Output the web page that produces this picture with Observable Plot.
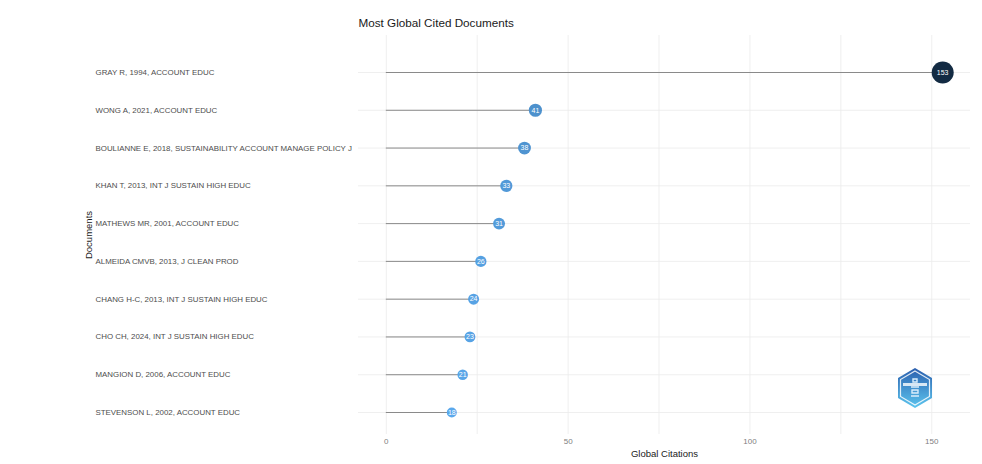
<!DOCTYPE html>
<html><head><meta charset="utf-8">
<script src="https://cdn.jsdelivr.net/npm/d3@7"></script>
<script src="https://cdn.jsdelivr.net/npm/@observablehq/plot@0.6"></script>
<style>
body{margin:0;background:#fff;}
#c{position:relative;width:982px;height:464px;}
#logo{position:absolute;left:896px;top:367px;}
</style>
</head><body><div id="c"></div>
<script>
const documents = [
  "GRAY R, 1994, ACCOUNT EDUC",
  "WONG A, 2021, ACCOUNT EDUC",
  "BOULIANNE E, 2018, SUSTAINABILITY ACCOUNT MANAGE POLICY J",
  "KHAN T, 2013, INT J SUSTAIN HIGH EDUC",
  "MATHEWS MR, 2001, ACCOUNT EDUC",
  "ALMEIDA CMVB, 2013, J CLEAN PROD",
  "CHANG H-C, 2013, INT J SUSTAIN HIGH EDUC",
  "CHO CH, 2024, INT J SUSTAIN HIGH EDUC",
  "MANGION D, 2006, ACCOUNT EDUC",
  "STEVENSON L, 2002, ACCOUNT EDUC"
];
const citations = [153, 41, 38, 33, 31, 26, 24, 23, 21, 18];
const xTicks = [0, 50, 100, 150];
const xMinorTicks = [25, 75, 125];
const titleText = "Most Global Cited Documents";
const xTitle = "Global Citations";
const yTitle = "Documents";

const data = documents.map((d, i) => ({doc: d, tc: citations[i]}));

const plot = Plot.plot({
  width: 982, height: 464,
  marginLeft: 358, marginRight: 12, marginTop: 35, marginBottom: 30,
  style: {fontFamily: "'Liberation Sans', Arial, sans-serif", background: "#fff", overflow: "visible"},
  x: {domain: [-7.65, 160.65]},
  y: {type: "point", domain: documents, range: [72, 412], padding: 0, round: false, axis: null},
  color: {type: "linear", domain: [18, 153], range: ["#5aa8ec", "#132B43"], interpolate: "lab"},
  r: {type: "sqrt", domain: [18, 153], range: [5, 11]},
  marks: [
    Plot.ruleX([...xMinorTicks, ...xTicks], {stroke: "#ebebeb", strokeWidth: 0.8}),
    Plot.ruleY(documents, {y: d => d, stroke: "#ebebeb", strokeWidth: 0.8}),
    Plot.axisX(xTicks, {tickSize: 0, tickPadding: 4, fontSize: 8, fill: "#808080", label: null}),
    Plot.ruleY(data, {y: "doc", x1: 0, x2: "tc", stroke: "#8a8a8a", strokeWidth: 1}),
    Plot.dot(data, {x: "tc", y: "doc", r: "tc", fill: "tc", stroke: null}),
    Plot.text(data, {x: "tc", y: "doc", text: d => String(d.tc), fill: "#ffffff", fontSize: 7}),
    Plot.text(documents, {y: d => d, text: d => d, frameAnchor: "left", dx: -263, textAnchor: "start", fontSize: 7.9, fill: "#4d4d4d"}),
    Plot.text([titleText], {text: d => d, frameAnchor: "top-left", lineAnchor: "middle", dy: -12, textAnchor: "start", fontSize: 11.7, fill: "#1a1a1a"}),
    Plot.text([xTitle], {text: d => d, frameAnchor: "bottom", lineAnchor: "middle", dy: 19, fontSize: 9.5, fill: "#1a1a1a"}),
    Plot.text([yTitle], {text: d => d, frameAnchor: "left", textAnchor: "middle", lineAnchor: "middle", dx: -270, rotate: -90, fontSize: 9.5, fill: "#1a1a1a"})
  ]
});
const c = document.getElementById("c");
c.appendChild(plot);

c.insertAdjacentHTML("beforeend", `
<svg id="logo" width="38" height="42" viewBox="0 0 38 42">
  <defs><linearGradient id="lg" x1="0" y1="0" x2="0" y2="1">
    <stop offset="0" stop-color="#2b5fae"/><stop offset="1" stop-color="#5cc6ef"/></linearGradient></defs>
  <polygon points="19,1 36,11 36,31 19,41 2,31 2,11" fill="url(#lg)"/>
  <polygon points="19,4 33.5,12.5 33.5,29.5 19,38 4.5,29.5 4.5,12.5" fill="none" stroke="#ffffff" stroke-width="1.2" opacity="0.85"/>
  <rect x="7" y="16" width="24" height="3" fill="#ffffff" opacity="0.8"/>
  <path d="M17 12 h4 v3 h-4z M15 20 h8 M16 23 h6 v3 h-6z M15 29 h8" stroke="#dbeefc" stroke-width="1.4" fill="none"/>
</svg>`);
</script>
</body></html>
